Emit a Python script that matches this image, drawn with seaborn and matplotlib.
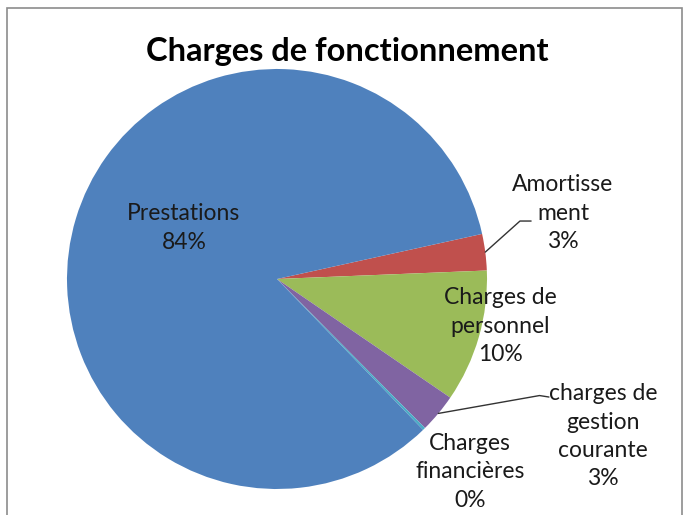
import numpy as np
import seaborn as sns
import matplotlib.pyplot as plt
from matplotlib.patches import Rectangle

# Slice data (clockwise order, starting just above 3 o'clock)
labels = ['Amortisse\nment', 'Charges de\npersonnel', 'charges de\ngestion\ncourante',
          'Charges\nfinancières', 'Prestations']
values = [2.8, 10.2, 3.0, 0.2, 83.8]
colors = ['#C0504D', '#9BBB59', '#8064A2', '#4BACC6', '#4F81BD']
title = 'Charges de fonctionnement'

sns.set_theme(style='white')
plt.rcParams['font.family'] = ['Lato', 'DejaVu Sans']

fig = plt.figure(figsize=(6.83, 5.15), dpi=100)
fig.patches.append(Rectangle((7 / 683, -0.1), 675 / 683, 1 - 8 / 515 + 0.1,
                             transform=fig.transFigure, fill=False,
                             edgecolor='#8C8C8C', linewidth=1.2))

# pie centre at (277, 279) px, radius 210 px
ax = fig.add_axes([67 / 683, (515 - 489) / 515, 420 / 683, 420 / 515])
wedges, _ = ax.pie(values, colors=colors, startangle=12.4, counterclock=False,
                   wedgeprops=dict(linewidth=0))
ax.set_xlim(-1, 1)
ax.set_ylim(-1, 1)
ax.axis('off')

pct = [f'{v:.0f}%' for v in values]
# label block centres (data units: radius = 1)
label_pos = [(1.362, 0.314), (1.062, -0.224), (1.552, -0.748),
             (0.919, -0.919), (-0.443, 0.243)]
for lab, p, (x, y) in zip(labels, pct, label_pos):
    ax.text(x, y, lab + '\n' + p, ha='center', va='center', fontsize=16.5,
            linespacing=1.42, color='#1a1a1a', clip_on=False)


def edge_point(w):
    mid = np.deg2rad((w.theta1 + w.theta2) / 2)
    return np.cos(mid), np.sin(mid)


# leader lines
x0, y0 = edge_point(wedges[0])
ax.plot([x0, 1.157, 1.21], [y0, 0.276, 0.276], color='#333333', lw=1, clip_on=False)
x0, y0 = edge_point(wedges[2])
ax.plot([x0, 1.25, 1.295], [y0, -0.555, -0.562], color='#333333', lw=1, clip_on=False)

fig.text(347 / 683, 1 - 52 / 515, title, ha='center', va='center',
         fontsize=23.5, fontweight='bold', color='black')

fig.savefig('out.png', dpi=100)
